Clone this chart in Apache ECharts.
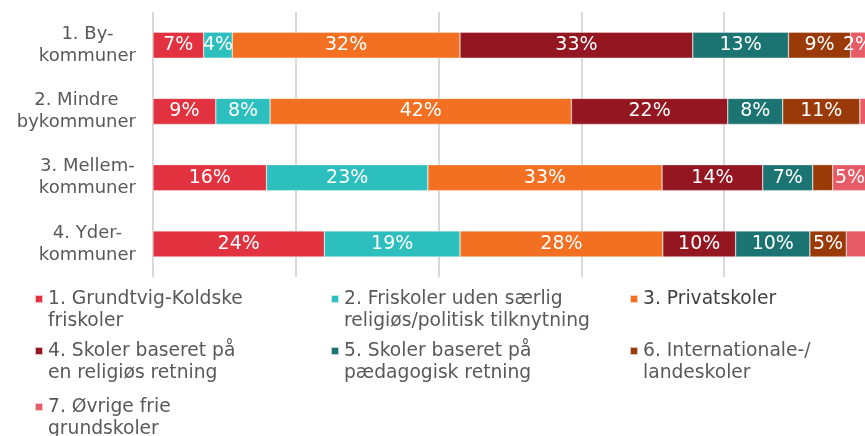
<!DOCTYPE html>
<html>
<head>
<meta charset="utf-8">
<script src="https://cdn.jsdelivr.net/npm/echarts@6/dist/echarts.min.js"></script>
<style>
    html, body { margin: 0; padding: 0; overflow: hidden; background: #fff; }
    #chart { width: 880px; height: 436px; }
</style>
</head>
<body>
<div id="chart"></div>
<script>
    // kommunegrupper (y-akse)
    const categories = ['1. By-\nkommuner', '2. Mindre\nbykommuner', '3. Mellem-\nkommuner', '4. Yder-\nkommuner']

    const seriesNames = [
        '1. Grundtvig-Koldske\nfriskoler',
        '2. Friskoler uden særlig\nreligiøs/politisk tilknytning',
        '3. Privatskoler',
        '4. Skoler baseret på\nen religiøs retning',
        '5. Skoler baseret på\npædagogisk retning',
        '6. Internationale-/\nlandeskoler',
        '7. Øvrige frie\ngrundskoler'
    ]

    // andele i procent, én liste pr. skoletype
    const grundtvig = [7.1, 8.8, 15.9, 24.0]
    const friskoler = [4.0, 7.6, 22.6, 19.0]
    const privat = [31.9, 42.2, 32.8, 28.4]
    const religioes = [32.6, 21.9, 14.1, 10.2]
    const paedagogisk = [13.4, 7.7, 7.0, 10.4]
    const international = [8.7, 10.8, 2.8, 5.1]
    const oevrige = [2.1, 1.0, 4.9, 2.9]

    const seriesData = [grundtvig, friskoler, privat, religioes, paedagogisk, international, oevrige]

    // labels der ikke vises i originalen: [serie, kategori]
    const hiddenLabels = [[6, 1], [5, 2], [6, 3]]

    const colors = ['#E3323F', '#2DBFBE', '#F36F21', '#931620', '#1B7472', '#9B3A09', '#E75B67']

    // legend placering (kolonner / rækker)
    const legendPos = [
        {left: 34, top: 266}, {left: 330, top: 266}, {left: 629, top: 288},
        {left: 34, top: 318}, {left: 330, top: 318}, {left: 629, top: 318},
        {left: 34, top: 374}
    ]

    const isHidden = (s, i) => hiddenLabels.some(h => h[0] === s && h[1] === i)

    const series = seriesNames.map((name, s) => {
        return {
            name: name,
            type: 'bar',
            stack: 'total',
            barWidth: 26,
            itemStyle: {
                color: colors[s],
                borderColor: 'rgba(255,255,255,0.7)',
                borderWidth: 0.5
            },
            label: {
                show: true,
                position: 'inside',
                color: '#fff',
                fontFamily: 'DejaVu Sans',
                fontSize: 19,
                formatter: p => isHidden(s, p.dataIndex) ? '' : Math.round(p.value) + '%'
            },
            data: seriesData[s]
        }
    })

    // to-linjers tekst: tom første linje så markøren står ud for første linje
    const legends = seriesNames.map((name, s) => {
        return {
            left: legendPos[s].left,
            top: legendPos[s].top,
            padding: 0,
            selectedMode: false,
            icon: 'rect',
            itemWidth: 8,
            itemHeight: 8,
            data: [name],
            formatter: n => n.indexOf('\n') >= 0 ? ' \n' + n : n,
            textStyle: {
                fontFamily: 'DejaVu Sans',
                fontSize: 18.7,
                lineHeight: 22,
                color: s === 2 ? '#404040' : '#595959'
            }
        }
    })

    const options = {
        animation: false,
        grid: {
            left: 153,
            top: 12,
            width: 714,
            height: 265
        },
        legend: legends,
        xAxis: {
            type: 'value',
            min: 0,
            max: 100,
            interval: 20,
            axisLabel: {show: false},
            axisLine: {show: false},
            axisTick: {show: false},
            splitLine: {
                lineStyle: {color: '#D9D9D9', width: 2}
            }
        },
        yAxis: {
            type: 'category',
            inverse: true,
            data: categories,
            axisLine: {show: false},
            axisTick: {show: false},
            axisLabel: {
                margin: 17,
                fontFamily: 'DejaVu Sans',
                fontSize: 18,
                lineHeight: 22,
                color: '#595959',
                formatter: v => v.split('\n').map(l => '{c|' + l + '}').join('\n'),
                rich: {
                    c: {
                        align: 'center',
                        fontFamily: 'DejaVu Sans',
                        fontSize: 18,
                        lineHeight: 22,
                        color: '#595959'
                    }
                }
            }
        },
        series: series
    }

    const myChart = echarts.init(document.getElementById('chart'))
    myChart.setOption(options)
</script>
</body>
</html>
